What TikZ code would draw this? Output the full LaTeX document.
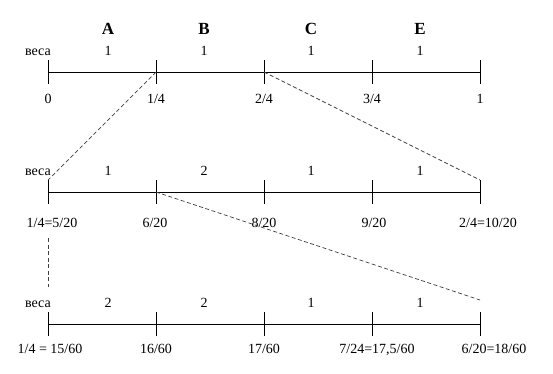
\documentclass[tikz,border=0pt]{standalone}
\usepackage{fontspec}
\setmainfont{Liberation Serif}
\begin{document}
\begin{tikzpicture}[x=1pt,y=-1pt,
  axis/.style={line width=1pt,black},
  guide/.style={line width=0.7pt,black!75,dash pattern=on 4pt off 2.5pt},
  txt/.style={inner sep=0pt,anchor=base,font=\fontsize{14}{16}\selectfont},
  lbl/.style={txt},
  head/.style={inner sep=0pt,anchor=base,font=\fontsize{17}{20}\selectfont\bfseries},
  wlbl/.style={inner sep=0pt,anchor=base east,font=\fontsize{14}{16}\selectfont}]
\useasboundingbox[fill=white] (0,0) rectangle (553,373);
% tick coordinates
\foreach \r/\y in {1/72,2/192,3/324}{
  \foreach \i/\x in {0/48,1/156,2/264,3/372,4/480}{
    \coordinate (p\r\i) at (\x,\y);
    \coordinate (t\r\i) at (\x,\y-12);
    \coordinate (b\r\i) at (\x,\y+12);
  }
}
% axes
\foreach \r in {1,2,3}{
  \draw[axis] (p\r0) -- (p\r4);
  \foreach \i in {0,...,4}{\draw[axis] (t\r\i) -- (b\r\i);}
}
% headers
\node[head] (hA) at (108,34) {A};
\node[head] (hB) at (204,34) {B};
\node[head] (hC) at (311,34) {C};
\node[head] (hE) at (420,34) {E};
% weights labels
\node[wlbl] (v1) at (51,55) {веса};
\node[wlbl] (v2) at (51,175) {веса};
\node[wlbl] (v3) at (51,307) {веса};
% weights row 1
\node[txt] (w11) at (108,55) {1};
\node[txt] (w12) at (204,55) {1};
\node[txt] (w13) at (311,55) {1};
\node[txt] (w14) at (420,55) {1};
% weights row 2
\node[txt] (w21) at (108,175) {1};
\node[txt] (w22) at (204,175) {2};
\node[txt] (w23) at (311,175) {1};
\node[txt] (w24) at (420,175) {1};
% weights row 3
\node[txt] (w31) at (108,307) {2};
\node[txt] (w32) at (204,307) {2};
\node[txt] (w33) at (311,307) {1};
\node[txt] (w34) at (420,307) {1};
% labels row 1
\node[lbl] (l10) at (48,103) {0};
\node[lbl] (l11) at (156,103) {1/4};
\node[lbl] (l12) at (264,103) {2/4};
\node[lbl] (l13) at (372,103) {3/4};
\node[lbl] (l14) at (480,103) {1};
% labels row 2
\node[lbl] (l20) at (52,227) {1/4=5/20};
\node[lbl] (l21) at (155,227) {6/20};
\node[lbl] (l22) at (264,227) {8/20};
\node[lbl] (l23) at (374,227) {9/20};
\node[lbl] (l24) at (488,227) {2/4=10/20};
% labels row 3
\node[lbl] (l30) at (50,353) {1/4 = 15/60};
\node[lbl] (l31) at (156,353) {16/60};
\node[lbl] (l32) at (264,353) {17/60};
\node[lbl] (l33) at (377,353) {7/24=17,5/60};
\node[lbl] (l34) at (494,353) {6/20=18/60};
% guides
\coordinate (g3) at (480,300);
\coordinate (gv1) at (48,238);
\coordinate (gv2) at (48,287);
\draw[guide] (p11) -- (t20);
\draw[guide] (p12) -- (t24);
\draw[guide] (p21) -- (g3);
\draw[guide] (gv1) -- (gv2);
\end{tikzpicture}
\end{document}
